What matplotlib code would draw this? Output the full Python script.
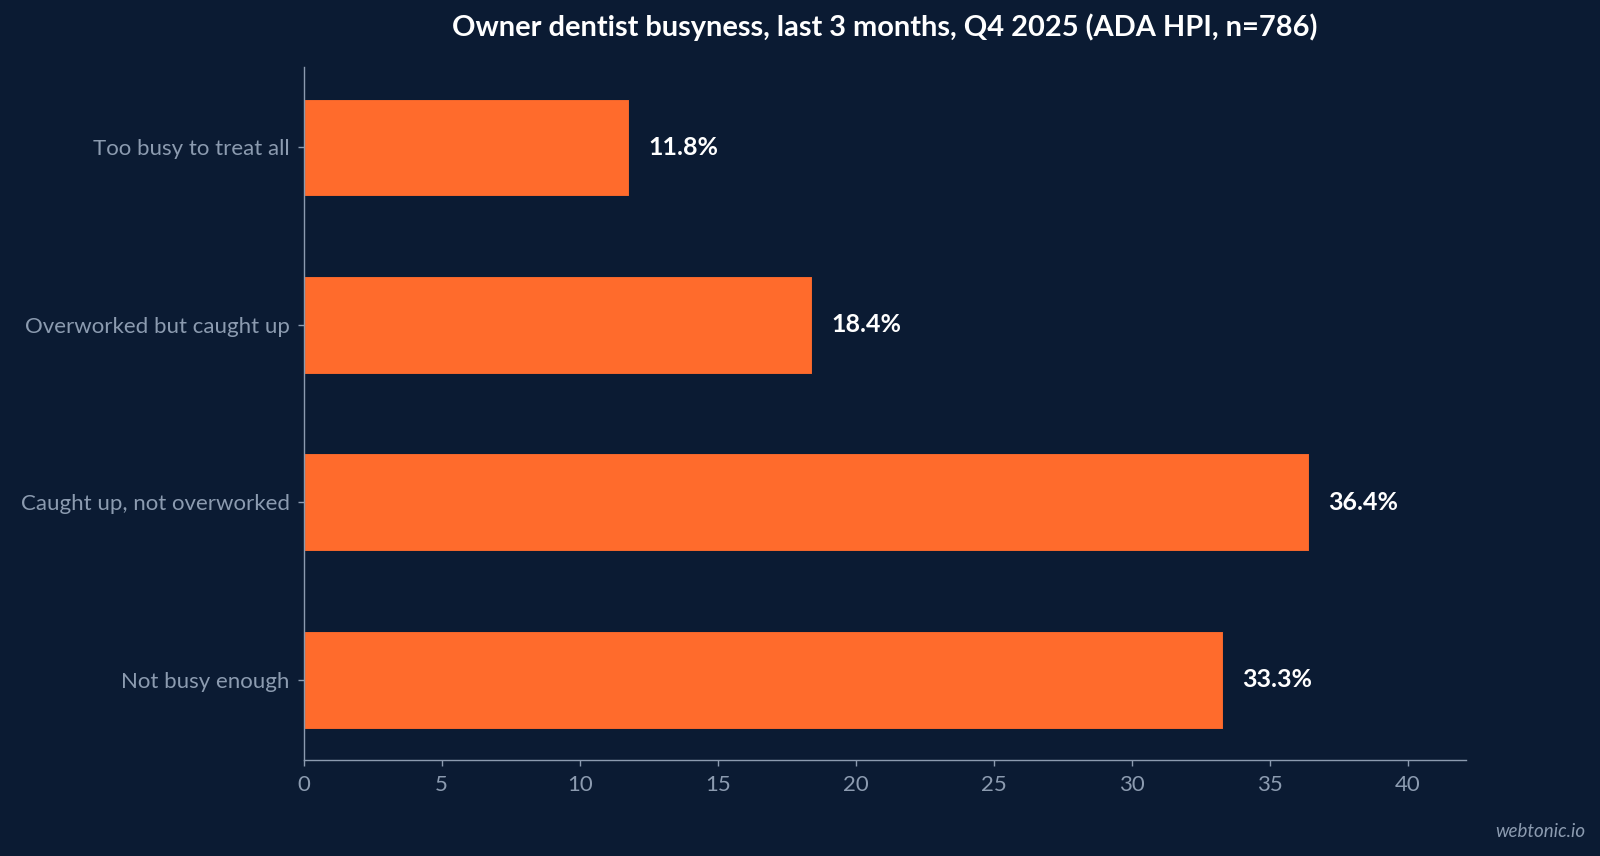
import matplotlib
matplotlib.use("Agg")
import matplotlib.pyplot as plt

categories = ["Not busy enough", "Caught up, not overworked", "Overworked but caught up", "Too busy to treat all"]
values = [33.3, 36.4, 18.4, 11.8]
xticks = [0, 5, 10, 15, 20, 25, 30, 35, 40]

BG = "#0b1b33"
BAR = "#ff6b2c"
TICK = "#8c9bb0"

plt.rcParams['font.family'] = ['Lato', 'DejaVu Sans']

fig = plt.figure(figsize=(16, 8.56), dpi=100, facecolor=BG)
ax = fig.add_axes([0.1897, 0.1121, 0.7266, 0.8096], facecolor=BG)

ypos = list(range(len(categories)))
ax.barh(ypos, values, height=0.55, color=BAR, edgecolor=BG, linewidth=0.8)
for y, v in zip(ypos, values):
    ax.text(v + 0.7, y, f"{v:.1f}%", va="center", ha="left", color="white",
            fontsize=18, fontweight="bold")

ax.set_yticks(ypos)
ax.set_yticklabels(categories)
ax.set_xticks(xticks)
ax.set_xlim(0, 42.1)
ax.tick_params(axis="both", colors=TICK, labelsize=16, length=4.5, width=1, pad=5.5)
ax.tick_params(axis="x", pad=6)
for s in ["top", "right"]:
    ax.spines[s].set_visible(False)
for s in ["left", "bottom"]:
    ax.spines[s].set_color(TICK)
    ax.spines[s].set_linewidth(1)

ax.set_title("Owner dentist busyness, last 3 months, Q4 2025 (ADA HPI, n=786)",
             color="white", fontsize=20.9, fontweight="bold", pad=22)

fig.text(0.991, 0.019, "webtonic.io", ha="right", va="bottom", color=TICK,
         fontsize=13.5, style="italic")

fig.savefig("out.png", dpi=100, facecolor=BG)
